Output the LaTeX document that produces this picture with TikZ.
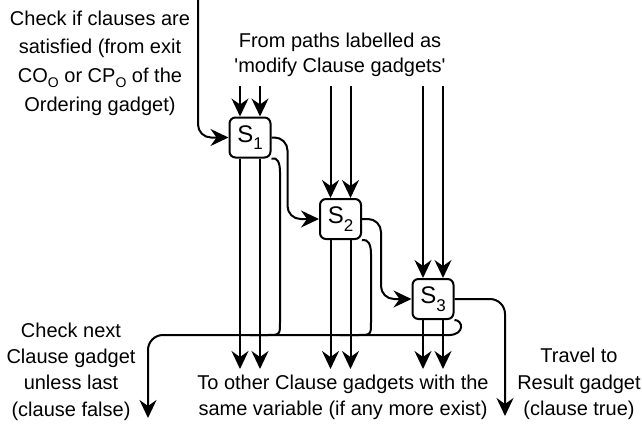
\documentclass[tikz,border=0pt]{standalone}
\usepackage{fontspec}
\setmainfont{Liberation Sans}[Ligatures=TeXOff]
\usetikzlibrary{arrows.meta}
\newcommand\slabel[1]{{\fontsize{24}{24}\selectfont S\raisebox{-7.5pt}{\fontsize{17}{17}\selectfont #1}}}
\newcommand\tsub[1]{\raisebox{-5pt}{\fontsize{14}{14}\selectfont #1}}
\begin{document}
\begin{tikzpicture}[x=1pt,y=-1pt,
  gbox/.style={draw, rounded corners=6pt, minimum width=41pt, minimum height=40pt, inner sep=0pt, line width=2pt},
  conn/.style={line width=2pt, -{Stealth[length=18pt 0, width=17pt 0, inset=6pt 0]}},
  plain/.style={line width=2pt},
  lbl/.style={align=center, inner sep=0pt},
]
\useasboundingbox (0,0) rectangle (642,431);

% gadget boxes
\node[gbox] (s1) at (250,137.5) {\slabel{1}};
\node[gbox] (s2) at (340.5,219) {\slabel{2}};
\node[gbox] (s3) at (433,299) {\slabel{3}};

% texts
\node[lbl, font=\fontsize{20}{28.7}\selectfont] (tl) at (100,63)
  {Check if clauses are\\satisfied (from exit\\CO\tsub{O} or CP\tsub{O} of the\\Ordering gadget)};
\node[lbl, font=\fontsize{20}{25}\selectfont] (tp) at (340,55)
  {From paths labelled as\\'modify Clause gadgets'};
\node[lbl, font=\fontsize{20}{26.4}\selectfont] (tf) at (71,371.5)
  {Check next\\Clause gadget\\unless last\\(clause false)};
\node[lbl, font=\fontsize{20}{26.4}\selectfont] (to) at (343,397.5)
  {To other Clause gadgets with the\\same variable (if any more exist)};
\node[lbl, font=\fontsize{20}{26.4}\selectfont] (tt) at (579,384)
  {Travel to\\Result gadget\\(clause true)};

% free ends
\coordinate (tin) at (198,0);
\coordinate (a1) at (240,86);
\coordinate (b1) at (260,86);
\coordinate (a2) at (330.5,86);
\coordinate (b2) at (350.5,86);
\coordinate (a3) at (423,86);
\coordinate (b3) at (443,86);
\coordinate (c1) at (240,369);
\coordinate (d1) at (260,369);
\coordinate (c2) at (330.5,369);
\coordinate (d2) at (350.5,369);
\coordinate (c3) at (423,369);
\coordinate (d3) at (443,369);
\coordinate (fl) at (148,418);
\coordinate (tr) at (505,416);

% inputs
\draw[conn] (tin) [rounded corners=13pt] |- (s1.west);
\foreach \p/\s in {a1/s1,b1/s1,a2/s2,b2/s2,a3/s3,b3/s3}
  \draw[conn] (\p) -- (\p |- \s.north);
% outputs
\foreach \p/\s in {c1/s1,d1/s1,c2/s2,d2/s2,c3/s3,d3/s3}
  \draw[conn] (\p |- \s.south) -- (\p);

% chain
\draw[conn] (s1.east) [rounded corners=13pt] -- ++(16,0) |- (s2.west);
\draw[conn] (s2.east) [rounded corners=13pt] -- ++(19,0) |- (s3.west);
\draw[conn] (s3.east) [rounded corners=15pt] -| (tr);

% clause false paths
\draw[conn] (s3.south east) .. controls (463,320) and (465,334) .. (450,335)
  [rounded corners=15pt] -| (fl);
\draw[plain] (s1.south east) .. controls (277,157) and (280,162) .. (280,172)
  -- (280,322) .. controls (280,335) .. (267,335) -- (250,335);
\draw[plain] (s2.south east) .. controls (368,239) and (371,244) .. (371,254)
  -- (371,322) .. controls (371,335) .. (358,335) -- (340,335);
\end{tikzpicture}
\end{document}
